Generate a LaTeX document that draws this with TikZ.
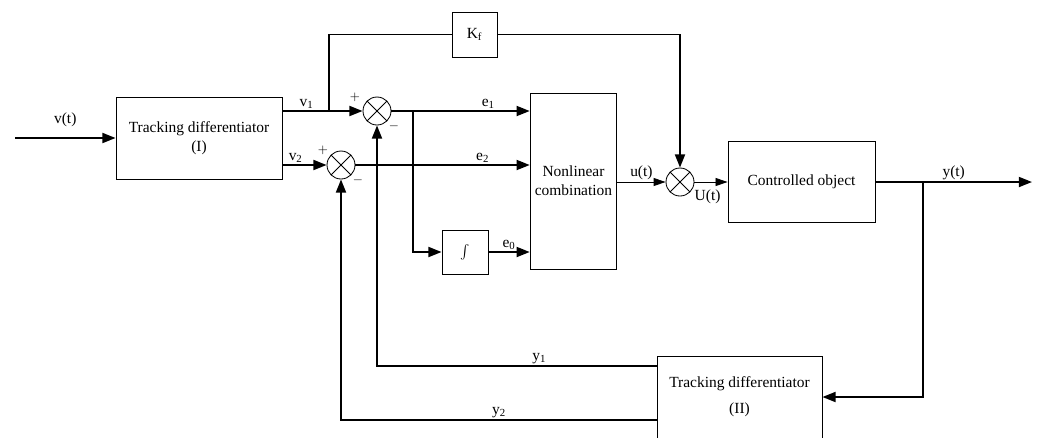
\documentclass[tikz,border=0pt]{standalone}
\usepackage{fontspec}
\setmainfont{Liberation Serif}
\usetikzlibrary{arrows.meta, positioning}
\tikzset{
    blk/.style={rectangle, draw, semithick, align=center,
                font=\fontsize{11}{13.5}\selectfont},
    sumnode/.style={circle, draw, semithick, minimum size=7mm, inner sep=0pt,
                    path picture={
                      \draw[semithick] (path picture bounding box.north west) -- (path picture bounding box.south east);
                      \draw[semithick] (path picture bounding box.north east) -- (path picture bounding box.south west);}},
    sig/.style={-{Triangle[length=3.3mm, width=2.5mm]}, line width=1.4pt},
    sigline/.style={-, line width=1.4pt},
    thinsig/.style={-{Triangle[length=3mm, width=2mm]}, semithick},
    lbl/.style={font=\fontsize{11}{13}\selectfont, inner sep=1pt},
    sgn/.style={font=\fontsize{9}{10}\selectfont, inner sep=0pt},
}

\begin{document}
\begin{tikzpicture}[x=0.025cm, y=-0.025cm]
    \useasboundingbox (0,0) rectangle (1040,437);
    \clip (0,0) rectangle (1040,437);
    % blocks
    \node[blk, minimum width=4.15cm, minimum height=2.05cm] (td1) at (199,138)
        {Tracking differentiator\\(I)};
    \node[sumnode] (s1) at (377,111) {};
    \node[sumnode] (s2) at (341,165) {};
    \node[blk, minimum width=1.125cm, minimum height=1.125cm] (kf) at (474.5,34.5) {K\textsubscript{f}};
    \node[blk, minimum width=1.15cm, minimum height=1.1cm] (intg) at (465,252) {$\int$};
    \node[blk, minimum width=1.725cm, minimum height=4.4cm] (nl) at (573.5,181)
        {Nonlinear\\combination};
    \node[sumnode] (s3) at (680,182) {};
    \node[blk, minimum width=3.675cm, minimum height=2.025cm] (co) at (801.5,182) {Controlled object};
    \node[blk, minimum width=4.125cm, minimum height=2.05cm] (td2) at (739.5,397)
        {Tracking differentiator\\[5pt](II)};
    % free ends and branch points
    \coordinate (vin) at (15,138);
    \coordinate (yout) at (1032,182);
    \coordinate (b1) at (329,111);
    \coordinate (b2) at (413,111);
    \coordinate (b3) at (923,182);
    \coordinate (y1out) at (657,366);
    \coordinate (y2out) at (657,420);
    % forward path
    \draw[sig] (vin) -- node[lbl, above=6pt] {v(t)} (td1.west);
    \draw[sig] (td1.east |- s1) -- node[lbl, above, pos=0.3] {v\textsubscript{1}} (s1);
    \draw[sig] (td1.east |- s2) -- node[lbl, above, pos=0.3] {v\textsubscript{2}} (s2);
    \draw[sig] (s1) -- node[lbl, above, pos=0.7] {e\textsubscript{1}} (nl.west |- s1);
    \draw[sig] (s2) -- node[lbl, above, pos=0.73] {e\textsubscript{2}} (nl.west |- s2);
    \draw[sig] (b2) |- (intg.west);
    \draw[sig] (intg) -- node[lbl, above] {e\textsubscript{0}} (nl.west |- intg);
    \draw[sigline] (b1) |- (kf.west);
    \draw[sig] (kf.east) -| (s3);
    \draw[thinsig] (nl.east |- s3) -- node[lbl, above] {u(t)} (s3);
    \draw[thinsig] (s3) -- (co.west);
    \node[lbl, below right=4pt and -1pt of s3.east] (ut) {U(t)};
    \draw[sig] (co.east) -- node[lbl, above, pos=0.5] {y(t)} (yout);
    % feedback path
    \draw[sig] (b3) |- (td2.east);
    \draw[sig] (y1out) -| node[lbl, above, pos=0.21] {y\textsubscript{1}} (s1);
    \draw[sig] (y2out) -| node[lbl, above, pos=0.25] {y\textsubscript{2}} (s2);
    % signs
    \node[sgn] at (355,97) {$+$};
    \node[sgn] at (394,126) {$-$};
    \node[sgn] at (323,150) {$+$};
    \node[sgn] at (358,180) {$-$};
\end{tikzpicture}
\end{document}
